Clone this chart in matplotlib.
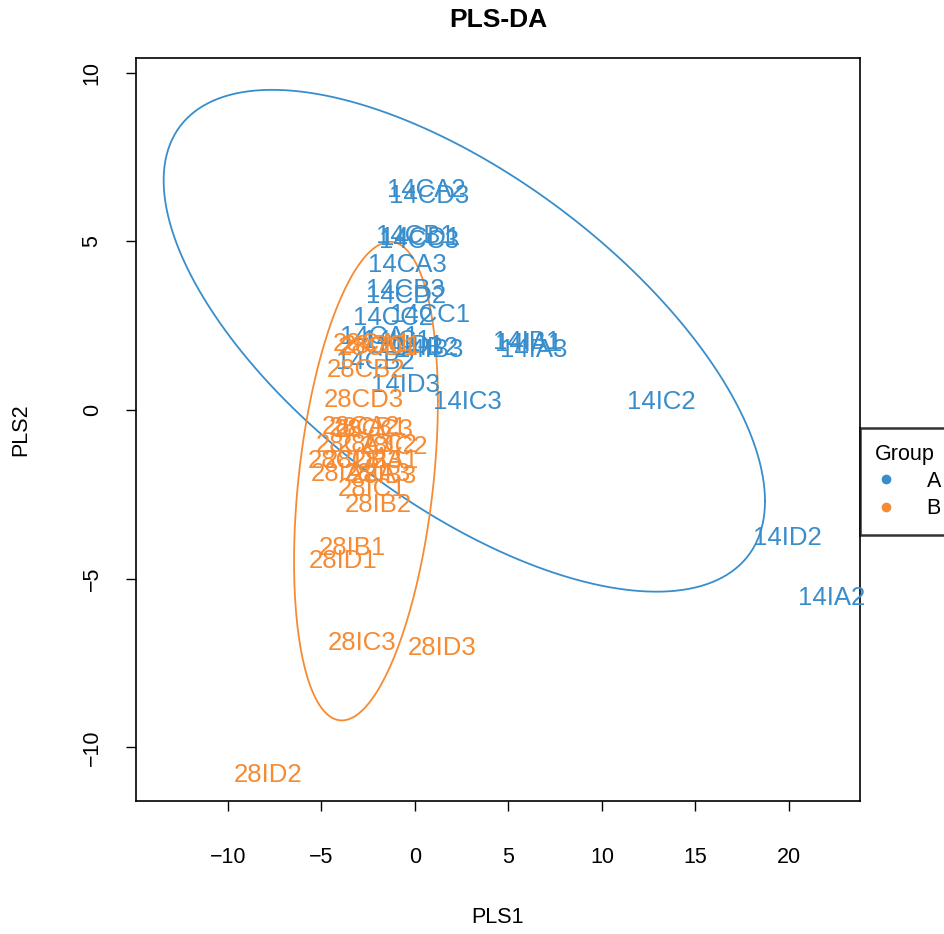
import numpy as np
import matplotlib
matplotlib.use("Agg")
import matplotlib.pyplot as plt
from matplotlib.lines import Line2D

plt.rcParams["font.family"] = ["Liberation Sans", "DejaVu Sans"]

# sample scores on the two PLS components
names_a = ["14CA1", "14CA2", "14CA3", "14CB1", "14CB2", "14CB3",
           "14CC1", "14CC2", "14CC3", "14CD1", "14CD2", "14CD3",
           "14IA1", "14IA2", "14IA3", "14IB1", "14IB2", "14IB3",
           "14IC1", "14IC2", "14IC3", "14ID1", "14ID2", "14ID3"]
pls1_a = [-1.9, 0.6, -0.4, 0.0, -2.1, -0.5,
          0.8, -1.2, 0.2, 0.3, -0.5, 0.75,
          6.1, 22.3, 6.35, 6.0, 0.5, 0.8,
          -1.0, 13.17, 2.83, -0.3, 19.9, -0.5]
pls2_a = [2.16, 6.52, 4.3, 5.15, 1.42, 3.55,
          2.8, 2.73, 5.0, 5.1, 3.38, 6.34,
          1.95, -5.57, 1.78, 2.01, 1.85, 1.78,
          2.05, 0.24, 0.24, 1.9, -3.79, 0.74]

names_b = ["28CA1", "28CA2", "28CA3", "28CB1", "28CB2", "28CB3",
           "28CC1", "28CC2", "28CC3", "28CD1", "28CD2", "28CD3",
           "28IA1", "28IA2", "28IA3", "28IB1", "28IB2", "28IB3",
           "28IC1", "28IC2", "28IC3", "28ID1", "28ID2", "28ID3"]
pls1_b = [-2.3, -2.9, -3.2, -2.5, -2.61, -2.8,
          -1.8, -2.0, -2.2, -2.0, -3.6, -2.72,
          -1.6, -3.8, -2.0, -3.36, -1.97, -1.7,
          -2.3, -1.1, -2.83, -3.84, -7.84, 1.44]
pls2_b = [1.95, -0.5, -1.05, -0.55, 1.19, -1.5,
          1.9, -1.05, -0.6, 1.85, -1.5, 0.3,
          -1.5, -1.9, -1.9, -4.09, -2.81, -1.95,
          -2.35, -1.1, -6.9, -4.47, -10.81, -7.05]

# 95% ellipses: centre and shape matrix per group
ell_center_a = [2.64, 2.05]
ell_shape_a = [[258.6, -76.4], [-76.4, 55.3]]
ell_center_b = [-2.62, -2.11]
ell_shape_b = [[14.8, 9.15], [9.15, 50.3]]

groups = ["A", "B"]
col_a = "#388ECC"
col_b = "#F68B33"


def ellipse_xy(center, shape, n=200):
    t = np.linspace(0, 2 * np.pi, n)
    L = np.linalg.cholesky(np.array(shape))
    pts = L @ np.vstack([np.cos(t), np.sin(t)])
    return pts[0] + center[0], pts[1] + center[1]


fig = plt.figure(figsize=(9.45, 9.34), dpi=100)
ax = fig.add_axes([0.1439, 0.1424, 0.7661, 0.7955])

for nm, x, y in zip(names_a, pls1_a, pls2_a):
    ax.text(x, y, nm, color=col_a, fontsize=18.5, ha="center", va="center")
for nm, x, y in zip(names_b, pls1_b, pls2_b):
    ax.text(x, y, nm, color=col_b, fontsize=18.5, ha="center", va="center")

ex, ey = ellipse_xy(ell_center_a, ell_shape_a)
ax.plot(ex, ey, color=col_a, lw=1.3)
ex, ey = ellipse_xy(ell_center_b, ell_shape_b)
ax.plot(ex, ey, color=col_b, lw=1.3)

ax.set_xlim(-14.92, 23.8)
ax.set_ylim(-11.59, 10.43)
ax.set_xticks([-10, -5, 0, 5, 10, 15, 20])
ax.set_yticks([-10, -5, 0, 5, 10])
ax.tick_params(direction="out", length=7, width=1, labelsize=15.5)
ax.tick_params(axis="x", pad=26)
ax.tick_params(axis="y", pad=17)
for lab in ax.get_yticklabels():
    lab.set_rotation(90)
    lab.set_va("center")
for s in ax.spines.values():
    s.set_linewidth(1.2)

ax.set_xlabel("PLS1", fontsize=15.5, labelpad=28)
ax.set_ylabel("PLS2", fontsize=15.5, labelpad=36)
ax.set_title("PLS-DA", fontsize=19, fontweight="bold", pad=22)

handles = [Line2D([], [], marker="o", ls="", color=c, markersize=6)
           for c in (col_a, col_b)]
leg = ax.legend(handles, groups, title="Group", loc="center left",
                bbox_to_anchor=(1.0, 0.43), fontsize=15.5, title_fontsize=15.5,
                frameon=True, fancybox=False, edgecolor="black",
                handlelength=1.0, handletextpad=1.4, borderpad=0.7,
                borderaxespad=0.0, labelspacing=0.3)
leg.get_frame().set_linewidth(1.8)
leg._legend_box.align = "left"

fig.savefig("out.png", dpi=100, facecolor="white")
